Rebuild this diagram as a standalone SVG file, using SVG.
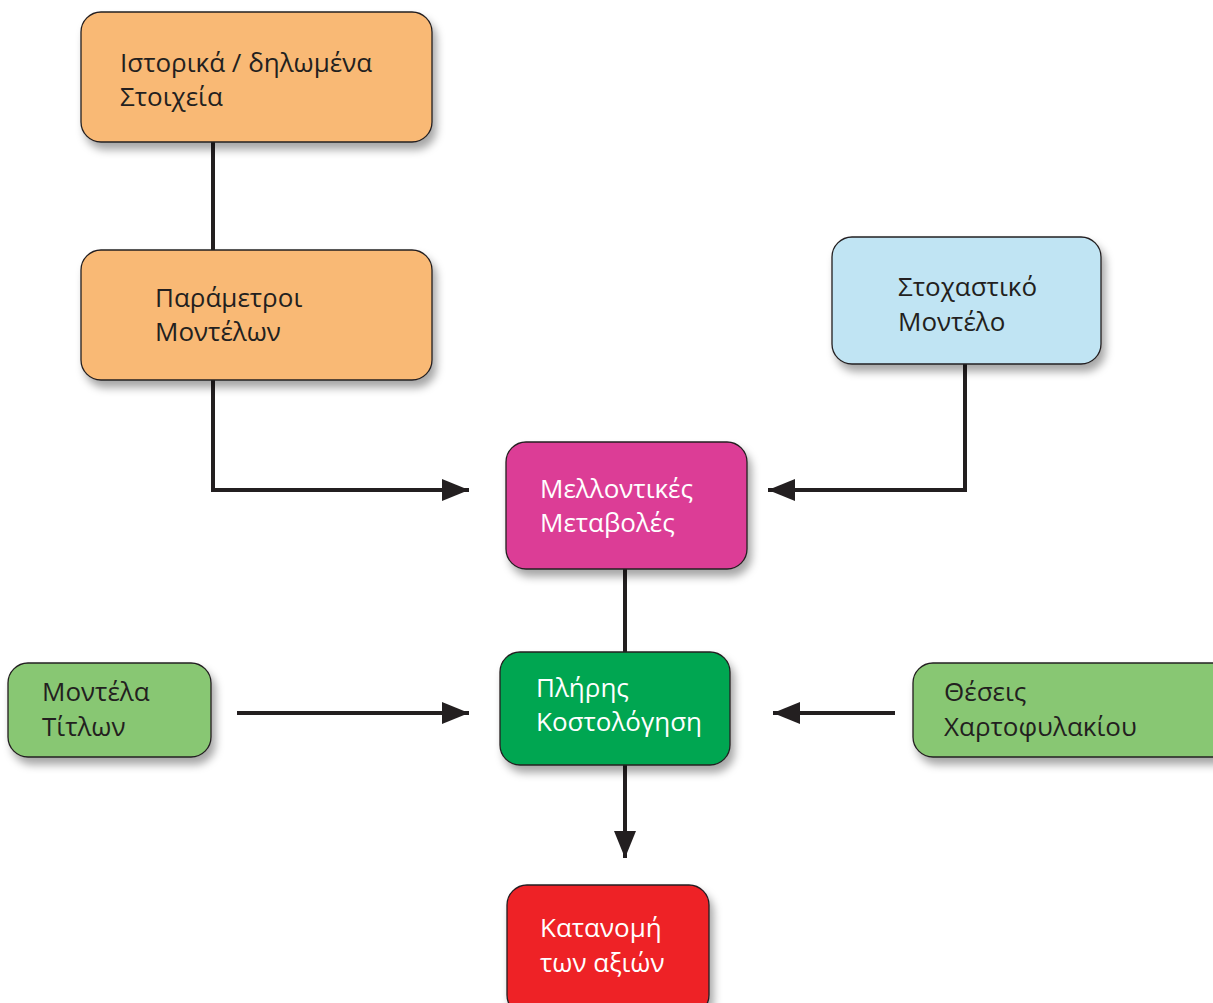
<svg xmlns="http://www.w3.org/2000/svg" width="1213" height="1003" viewBox="0 0 1213 1003">
  <style>
    .box { stroke: #231f20; stroke-width: 1.3; filter: url(#shadow); }
    .lbl { font-family: "Open Sans", "Noto Sans", "DejaVu Sans", sans-serif; font-size: 26px; }
    .dark { fill: #231f20; }
    .light { fill: #ffffff; }
    .wire { fill: none; stroke: #231f20; stroke-width: 4; }
  </style>
  <defs>
    <filter id="shadow" x="-10%" y="-10%" width="130%" height="140%">
      <feDropShadow dx="4" dy="7" stdDeviation="4" flood-color="#000" flood-opacity="0.35"/>
    </filter>
    <marker id="head" markerUnits="userSpaceOnUse" markerWidth="28" markerHeight="22" refX="27" refY="11" orient="auto">
      <path d="M0,0 L27,11 L0,22 Z" fill="#231f20"/>
    </marker>
  </defs>

  <!-- connectors -->
  <g id="connectors">
    <path class="wire" d="M213,142 V250"/>
    <path class="wire" d="M213,380 V490 H469" marker-end="url(#head)"/>
    <path class="wire" d="M965,364 V490 H768" marker-end="url(#head)"/>
    <path class="wire" d="M625,569 V652" stroke-width="3"/>
    <path class="wire" d="M625,765 V858" marker-end="url(#head)"/>
    <path class="wire" d="M237,713 H469" marker-end="url(#head)"/>
    <path class="wire" d="M895,713 H773" marker-end="url(#head)"/>
  </g>

  <g id="historical-data">
    <rect class="box" x="81" y="12" width="351" height="130" rx="20" fill="#f9b975"/>
    <text class="lbl dark" x="120" y="72">Ιστορικά / δηλωμένα</text>
    <text class="lbl dark" x="120" y="106">Στοιχεία</text>
  </g>

  <g id="model-parameters">
    <rect class="box" x="81" y="250" width="351" height="130" rx="20" fill="#f9b975"/>
    <text class="lbl dark" x="155" y="307">Παράμετροι</text>
    <text class="lbl dark" x="155" y="341">Μοντέλων</text>
  </g>

  <g id="stochastic-model">
    <rect class="box" x="832" y="237" width="269" height="127" rx="20" fill="#c0e4f3"/>
    <text class="lbl dark" x="898" y="296">Στοχαστικό</text>
    <text class="lbl dark" x="898" y="331">Μοντέλο</text>
  </g>

  <g id="future-changes">
    <rect class="box" x="506" y="442" width="241" height="127" rx="20" fill="#dc3e96"/>
    <text class="lbl light" x="540" y="498">Μελλοντικές</text>
    <text class="lbl light" x="540" y="532">Μεταβολές</text>
  </g>

  <g id="full-costing">
    <rect class="box" x="500" y="652" width="230" height="113" rx="20" fill="#00a651"/>
    <text class="lbl light" x="536" y="697">Πλήρης</text>
    <text class="lbl light" x="536" y="731">Κοστολόγηση</text>
  </g>

  <g id="security-models">
    <rect class="box" x="8" y="663" width="203" height="94" rx="20" fill="#88c773"/>
    <text class="lbl dark" x="42" y="701">Μοντέλα</text>
    <text class="lbl dark" x="42" y="736">Τίτλων</text>
  </g>

  <g id="portfolio-positions">
    <rect class="box" x="913" y="663" width="320" height="94" rx="20" fill="#88c773"/>
    <text class="lbl dark" x="944" y="701">Θέσεις</text>
    <text class="lbl dark" x="944" y="736">Χαρτοφυλακίου</text>
  </g>

  <g id="value-distribution">
    <rect class="box" x="507" y="885" width="202" height="130" rx="20" fill="#ee2028"/>
    <text class="lbl light" x="540" y="937">Κατανομή</text>
    <text class="lbl light" x="540" y="972">των αξιών</text>
  </g>
</svg>
